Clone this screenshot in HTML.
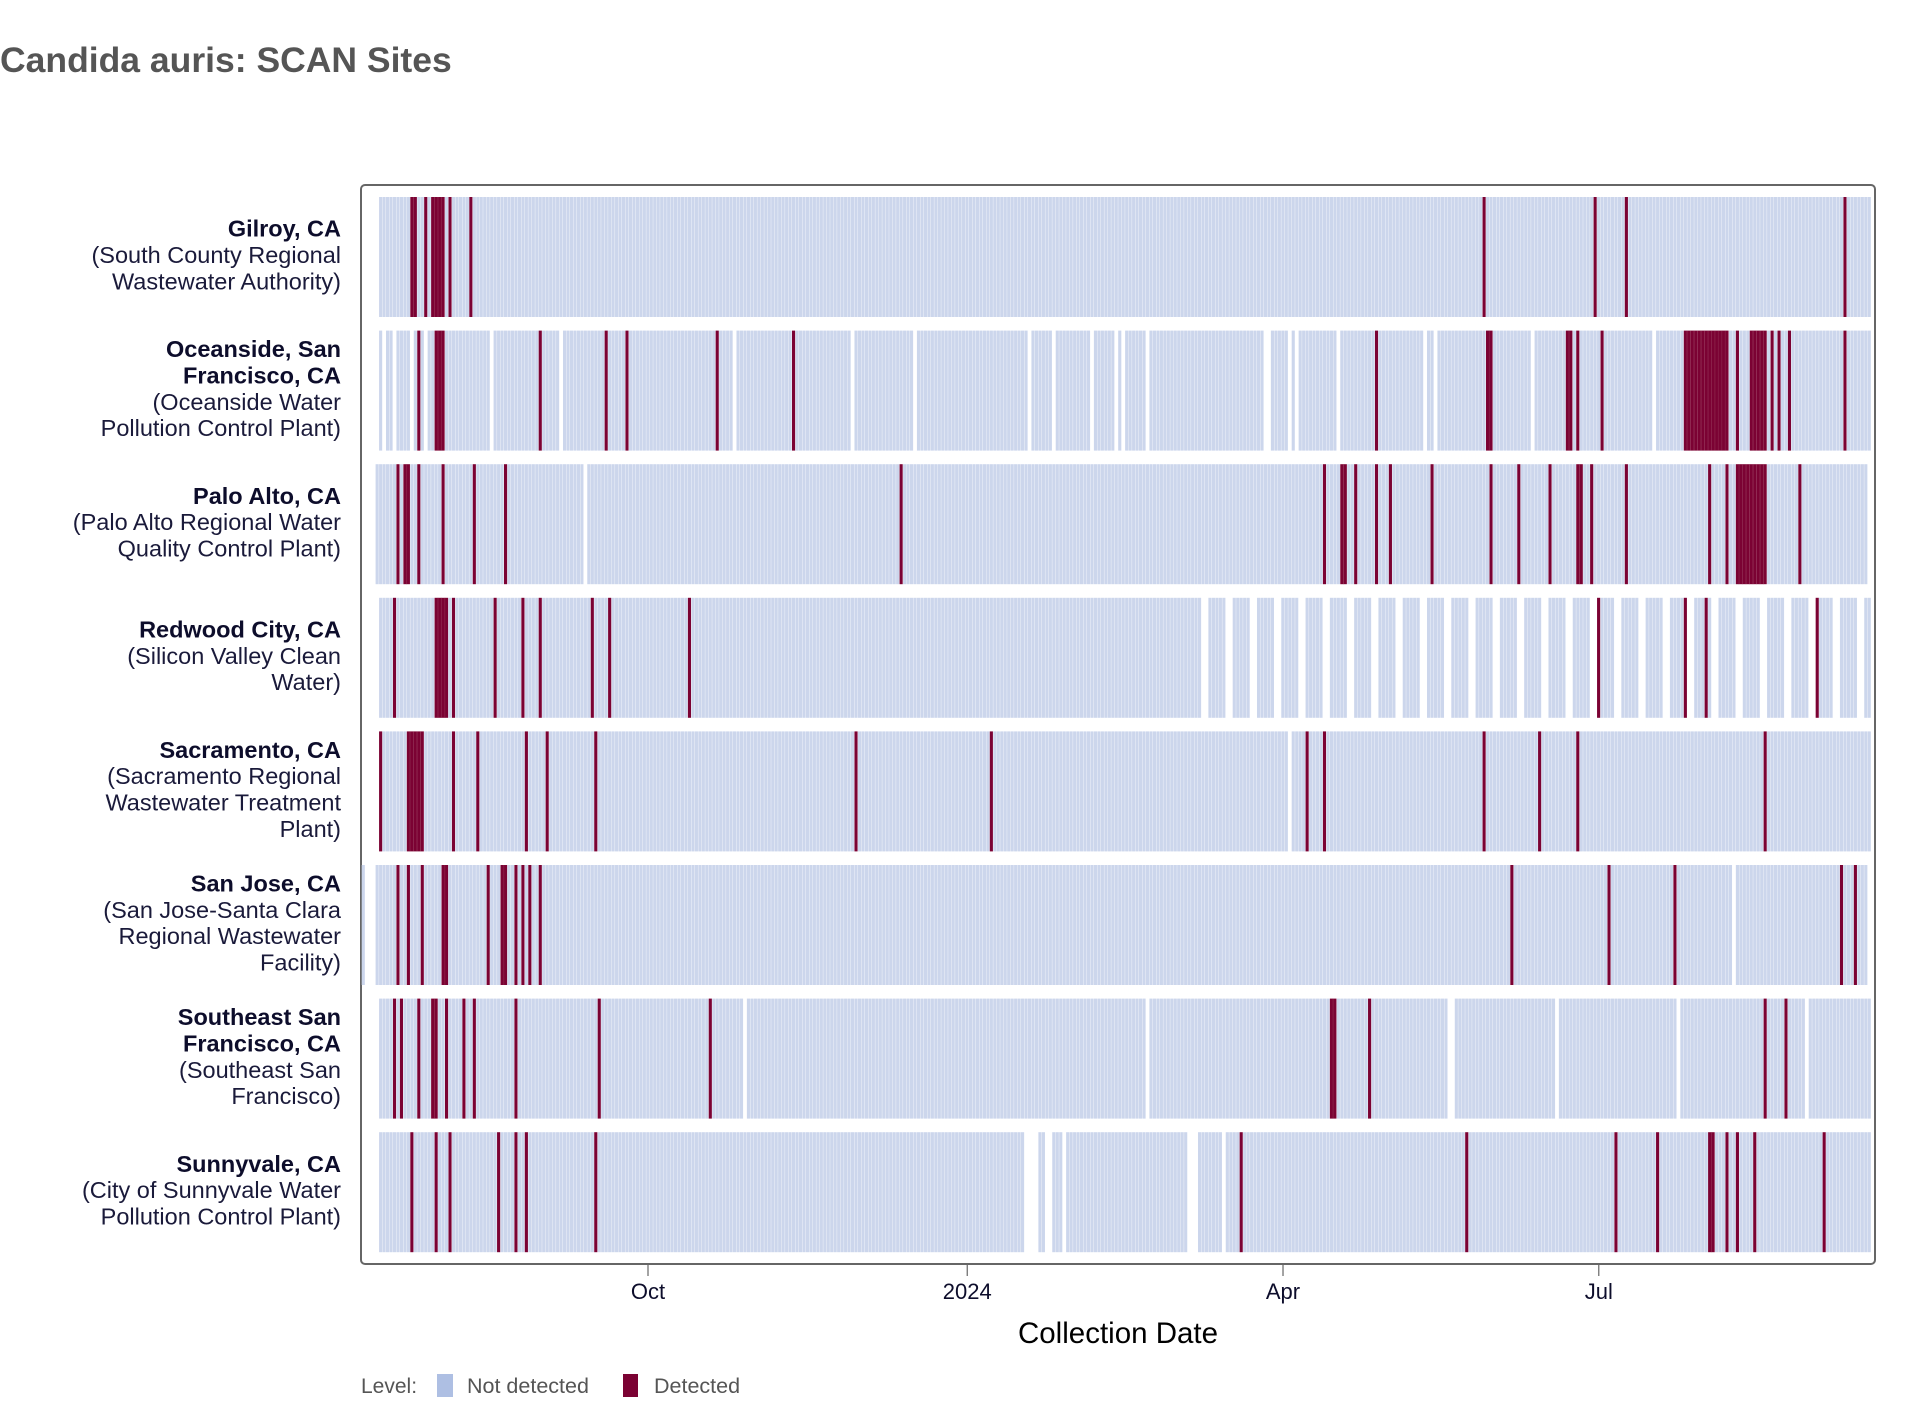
<!DOCTYPE html>
<html><head><meta charset="utf-8">
<style>
html,body{margin:0;padding:0;background:#fff;}
svg{display:block;font-family:"Liberation Sans",Arial,sans-serif;}
</style></head>
<body>
<svg id="chart" width="1916" height="1414" viewBox="0 0 1916 1414" xmlns="http://www.w3.org/2000/svg">
<text x="0" y="72" font-size="35.5" font-weight="bold" fill="#555">Candida auris: SCAN Sites</text>
<rect x="361" y="185" width="1514" height="1079" rx="4" fill="#fff" stroke="#666" stroke-width="2"/>
<g id="cells"></g>
<g id="labels"></g>
<g id="xaxis"></g>
<text x="1118" y="1343" font-size="29.5" text-anchor="middle" fill="#000">Collection Date</text>
<g>
<text x="361" y="1393" font-size="21" fill="#555">Level:</text>
<rect x="437" y="1374" width="16" height="23" fill="#aebfe3"/>
<text x="467" y="1393" font-size="21.5" fill="#555">Not detected</text>
<rect x="623" y="1374" width="15" height="23" fill="#7b0233"/>
<text x="654" y="1393" font-size="21.5" fill="#555">Detected</text>
</g>
</svg>
<script>
// Day offsets relative to 2023-10-01
const siteNames = ["gilroy","oceanside","palo-alto","redwood-city","sacramento","san-jose","southeast-sf","sunnyvale"];
const siteLabels = [
 ["Gilroy, CA","(South County Regional","Wastewater Authority)"],
 ["Oceanside, San","Francisco, CA","(Oceanside Water","Pollution Control Plant)"],
 ["Palo Alto, CA","(Palo Alto Regional Water","Quality Control Plant)"],
 ["Redwood City, CA","(Silicon Valley Clean","Water)"],
 ["Sacramento, CA","(Sacramento Regional","Wastewater Treatment","Plant)"],
 ["San Jose, CA","(San Jose-Santa Clara","Regional Wastewater","Facility)"],
 ["Southeast San","Francisco, CA","(Southeast San","Francisco)"],
 ["Sunnyvale, CA","(City of Sunnyvale Water","Pollution Control Plant)"]
];
const boldLines = [1,2,1,1,1,1,2,1];
const siteStart = [-77,-77,-78,-77,-77,-82,-77,-77];
const siteEnd = [352,352,351,352,352,351,352,352];
const gaps0 = [];
const gaps1 = [-76,-73,-68,-64,-45,-25,25,59,77,110,117,128,135,137,144,178,179,185,187,199,224,227,255,290];
const gaps2 = [-18];
const gaps3 = [160,161,167,168,174,175,181,182,188,189,195,196,202,203,209,210,216,217,223,224,230,231,237,238,244,245,251,252,258,259,265,266,272,273,279,280,286,287,293,294,300,301,307,308,314,315,321,322,328,329,335,336,342,343,349,350];
const gaps4 = [185];
const gaps5 = [-81,-80,-79,313];
const gaps6 = [28,144,231,232,262,297,334];
const gaps7 = [109,110,111,112,115,116,120,156,157,158,166];
const det0 = [-68,-67,-64,-62,-61,-60,-59,-57,-51,241,273,282,345];
const det1 = [-66,-61,-60,-59,-31,-12,-6,20,42,210,242,243,265,266,268,275,299,300,301,302,303,304,305,306,307,308,309,310,311,314,318,319,320,321,322,324,326,329,345];
const det2 = [-72,-70,-69,-66,-59,-50,-41,73,195,200,201,204,210,214,226,243,251,260,268,269,272,282,306,311,314,315,316,317,318,319,320,321,322,332];
const det3 = [-73,-61,-60,-59,-58,-56,-44,-36,-31,-16,-11,12,274,299,305,337];
const det4 = [-77,-69,-68,-67,-66,-65,-56,-49,-35,-29,-15,60,99,190,195,241,257,268,322];
const det5 = [-72,-69,-65,-59,-58,-46,-42,-41,-38,-36,-34,-31,249,277,296,344,348];
const det6 = [-73,-71,-66,-62,-61,-58,-53,-50,-38,-14,18,197,198,208,322,328];
const det7 = [-68,-61,-57,-43,-38,-35,-15,171,236,279,291,306,307,311,314,319,339];
const tickDays = [0,92,183,274];
const tickLabels = ["Oct","2024","Apr","Jul"];

const allGaps = [gaps0,gaps1,gaps2,gaps3,gaps4,gaps5,gaps6,gaps7];
const allDet = [det0,det1,det2,det3,det4,det5,det6,det7];
const NS = "http://www.w3.org/2000/svg";
const DAYW = 3.47;
function xScale(d){ return 648 + d*DAYW; }
function yRow(i){ return 197 + i*133.6; }
const ROWH = 120;

const cells = document.getElementById('cells');
for (let i=0;i<siteNames.length;i++){
  const g = document.createElementNS(NS,'g');
  
  
  const gs = new Set(allGaps[i]);
  const ds = new Set(allDet[i]);
  for (let d=siteStart[i]; d<=siteEnd[i]; d++){
    if (gs.has(d)) continue;
    const r = document.createElementNS(NS,'rect');
    const isDet = ds.has(d);
    r.setAttribute('x', (xScale(d)-DAYW/2).toFixed(2));
    r.setAttribute('y', yRow(i).toFixed(1));
    r.setAttribute('width', (DAYW-0.35).toFixed(2));
    r.setAttribute('height', ROWH);
    r.setAttribute('fill', isDet ? '#7b0233' : '#ccd6ec');
    
    
    g.appendChild(r);
  }
  allDet[i].forEach(function(d){
    if (ds.has(d+1) && !gs.has(d+1)) {
      const s = document.createElementNS(NS,'rect');
      s.setAttribute('x', (xScale(d)+DAYW/2-0.6).toFixed(2));
      s.setAttribute('y', yRow(i).toFixed(1));
      s.setAttribute('width', '0.8');
      s.setAttribute('height', ROWH);
      s.setAttribute('fill', '#8a2048');
      
      
      g.appendChild(s);
    }
  });
  cells.appendChild(g);
}

const labels = document.getElementById('labels');
for (let i=0;i<siteLabels.length;i++){
  const lines = siteLabels[i];
  const lh = 26.4;
  const cy = yRow(i) + ROWH/2;
  const firstBase = cy - (lines.length-1)*lh/2 + 6;
  const t = document.createElementNS(NS,'text');
  
  
  t.setAttribute('text-anchor','end');
  t.setAttribute('font-size','23.5');
  lines.forEach(function(line,k){
    const ts = document.createElementNS(NS,'tspan');
    ts.setAttribute('x','341');
    ts.setAttribute('y',(firstBase + k*lh).toFixed(1));
    if (k < boldLines[i]) { ts.setAttribute('font-weight','bold'); ts.setAttribute('fill','#0d0d2b'); }
    else ts.setAttribute('fill','#1a1a3a');
    ts.textContent = line;
    t.appendChild(ts);
  });
  labels.appendChild(t);
}

const xaxis = document.getElementById('xaxis');
tickDays.forEach(function(d,k){
  const x = xScale(d);
  const l = document.createElementNS(NS,'line');
  l.setAttribute('x1',x); l.setAttribute('x2',x);
  l.setAttribute('y1',1265); l.setAttribute('y2',1276);
  l.setAttribute('stroke','#666'); l.setAttribute('stroke-width','1.2');
  
  
  xaxis.appendChild(l);
  const t = document.createElementNS(NS,'text');
  t.setAttribute('x',x); t.setAttribute('y',1299);
  t.setAttribute('text-anchor','middle');
  t.setAttribute('font-size','22');
  t.setAttribute('fill','#0d0d2b');
  
  
  t.textContent = tickLabels[k];
  xaxis.appendChild(t);
});
</script>
</body></html>
